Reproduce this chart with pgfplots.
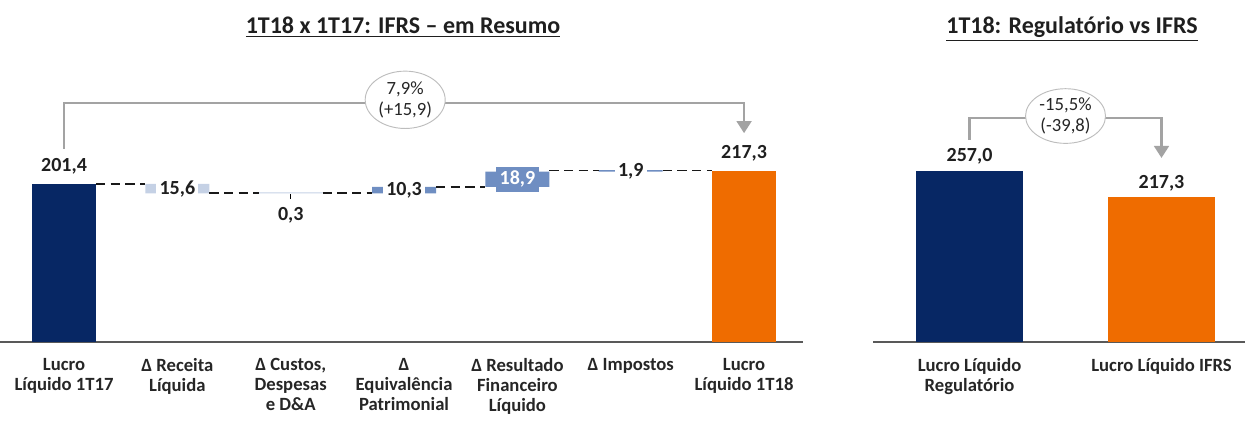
\documentclass[border=0pt]{standalone}
\usepackage{fontspec}
\setmainfont{Carlito}
\usepackage{pgfplots}
\pgfplotsset{compat=1.18}
\usetikzlibrary{arrows.meta,shapes.geometric}
\definecolor{cNavy}{HTML}{072764}
\definecolor{cOrange}{HTML}{EF6C00}
\definecolor{cLight}{HTML}{C5D1E5}
\definecolor{cMid}{HTML}{6F8EC2}
\definecolor{cAxis}{HTML}{595959}
\definecolor{cBracket}{HTML}{A3A3A3}
\definecolor{cEll}{HTML}{BDBDBD}
\newcommand{\catfont}{\fontsize{14}{15}\selectfont\bfseries}
\newcommand{\lblfont}{\fontsize{15}{17}\selectfont\bfseries}
\newcommand{\bubfont}{\fontsize{14}{15.5}\selectfont}
\tikzset{
  conn/.style={draw=black!90, line width=1.1pt, dash pattern=on 7pt off 4pt},
  brk/.style={draw=cBracket, line width=1.9pt, -{Triangle[width=11pt,length=9pt]}},
  bub/.style={ellipse, draw=cEll, line width=0.7pt, fill=white, minimum width=60pt, minimum height=43pt, inner sep=0pt, align=center, font=\bubfont, text=black!85},
  val/.style={font=\lblfont, text=black!88, inner sep=0pt},
}
\pgfplotsset{
  chart/.style={
    scale only axis, anchor=south west, height=226.5pt, ymin=0, clip=false,
    axis x line*=bottom, axis y line=none,
    axis line style={draw=cAxis, line width=1.1pt},
    major tick length=0pt, xtick={0,...,6},
    xticklabel style={font=\catfont, align=center, yshift=-9pt, text=black!85},
  },
}

\begin{document}
\begin{tikzpicture}[x=1pt,y=1pt]
\useasboundingbox (0,-60.75) rectangle (934.5,256.5);

% waterfall 1T18 x 1T17
\begin{axis}[chart, at={(0,0)}, width=602.25pt, ybar stacked, bar width=48pt,
  xmin=-0.565, xmax=6.52, ymax=384.7,
  xticklabels={{Lucro\\Líquido 1T17},{Δ Receita\\Líquida},{Δ Custos,\\Despesas\\e D\&A},{Δ\\Equivalência\\Patrimonial},{Δ Resultado\\Financeiro\\Líquido},{Δ Impostos},{Lucro\\Líquido 1T18}},
]
\addplot[draw=none, fill=none] coordinates {(0,0) (1,189.2) (2,189.2) (3,189.2) (4,197.6) (5,216.9) (6,0)};
\addplot[draw=none, fill=cNavy] coordinates {(0,201.4) (1,0) (2,0) (3,0) (4,0) (5,0) (6,0)};
\addplot[draw=none, fill=cLight] coordinates {(0,0) (1,12.2) (2,1.5) (3,0) (4,0) (5,0) (6,0)};
\addplot[draw=none, fill=cMid] coordinates {(0,0) (1,0) (2,0) (3,8.4) (4,19.4) (5,1.9) (6,0)};
\addplot[draw=none, fill=cOrange] coordinates {(0,0) (1,0) (2,0) (3,0) (4,0) (5,0) (6,217.3)};

\coordinate (c01a) at (axis cs:0.2825,201.4); \coordinate (c01b) at (axis cs:0.7175,201.4);
\coordinate (c12a) at (axis cs:1.2825,189.6); \coordinate (c12b) at (axis cs:1.7175,189.6);
\coordinate (c23a) at (axis cs:2.2825,189.6); \coordinate (c23b) at (axis cs:2.7175,189.6);
\coordinate (c34a) at (axis cs:3.2825,197.6); \coordinate (c34b) at (axis cs:3.7175,197.6);
\coordinate (c45a) at (axis cs:4.2825,218.5); \coordinate (c45b) at (axis cs:4.7175,218.5);
\coordinate (c56a) at (axis cs:5.2825,218.5); \coordinate (c56b) at (axis cs:5.7175,218.5);
\coordinate (v0) at (axis cs:0,216.6);
\coordinate (v6) at (axis cs:6,233.1);
\coordinate (v1) at (axis cs:1,195.3);
\coordinate (t2a) at (axis cs:2,188.2); \coordinate (t2b) at (axis cs:2,182.5);
\coordinate (v2) at (axis cs:2,161.8);
\coordinate (v3) at (axis cs:3,193.4);
\coordinate (v4) at (axis cs:4,207.3);
\coordinate (v5) at (axis cs:5,217.8);
\coordinate (bA) at (axis cs:0,246);
\coordinate (bB) at (axis cs:6,304.5);
\coordinate (bC) at (axis cs:6,266);
\coordinate (bE) at (axis cs:3.01,308.5);
\end{axis}

% regulatorio vs IFRS
\begin{axis}[chart, at={(654.75pt,0)}, width=279pt, ybar, bar width=80.25pt, bar shift=0pt,
  xmin=-0.503, xmax=1.435, ymax=452.8, xtick={0,1},
  xticklabels={{Lucro Líquido\\Regulatório},{Lucro Líquido IFRS}},
]
\addplot[draw=none, fill=cNavy] coordinates {(0,257.0)};
\addplot[draw=none, fill=cOrange] coordinates {(1,217.3)};
\coordinate (r0) at (axis cs:0,270);
\coordinate (r1) at (axis cs:1,229.4);
\coordinate (rA) at (axis cs:0,302.8);
\coordinate (rB) at (axis cs:1,335.8);
\coordinate (rC) at (axis cs:1,275.9);
\coordinate (rE) at (axis cs:0.5,338.8);
\end{axis}

% connectors and labels of the waterfall
\draw[conn] (c01a) -- (c01b);
\draw[conn] (c12a) -- (c12b);
\draw[conn] (c23a) -- (c23b);
\draw[conn] (c34a) -- (c34b);
\draw[conn] (c45a) -- (c45b);
\draw[conn] (c56a) -- (c56b);
\node[val, anchor=base] at (v0) {201,4};
\node[val, anchor=base] at (v6) {217,3};
\node[val, fill=white, inner xsep=2.5pt, inner ysep=2pt] at (v1) {15,6};
\draw[black, line width=0.6pt] (t2a) -- (t2b);
\node[val] at (v2) {0,3};
\node[val, fill=white, inner xsep=2.5pt, inner ysep=2pt] at (v3) {10,3};
\node[val, fill=cMid, text=white, inner xsep=3pt, inner ysep=3pt] at (v4) {18,9};
\node[val, fill=white, inner xsep=2.5pt, inner ysep=2pt] at (v5) {1,9};
\draw[brk] (bA) |- (bB) -- (bC);
\node[bub] at (bE) {7,9\%\\(+15,9)};

\node[val, anchor=base] at (r0) {257,0};
\node[val, anchor=base] at (r1) {217,3};
\draw[brk] (rA) |- (rB) -- (rC);
\node[bub, minimum height=41pt] at (rE) {-15,5\%\\(-39,8)};

\node[anchor=base, font=\fontsize{18}{20}\selectfont\bfseries, text=black!88] at (302.25,231) {\underline{1T18 x 1T17: IFRS – em Resumo}};
\node[anchor=base, font=\fontsize{18}{20}\selectfont\bfseries, text=black!88] at (804,231) {\underline{1T18: Regulatório vs IFRS}};
\end{tikzpicture}
\end{document}
